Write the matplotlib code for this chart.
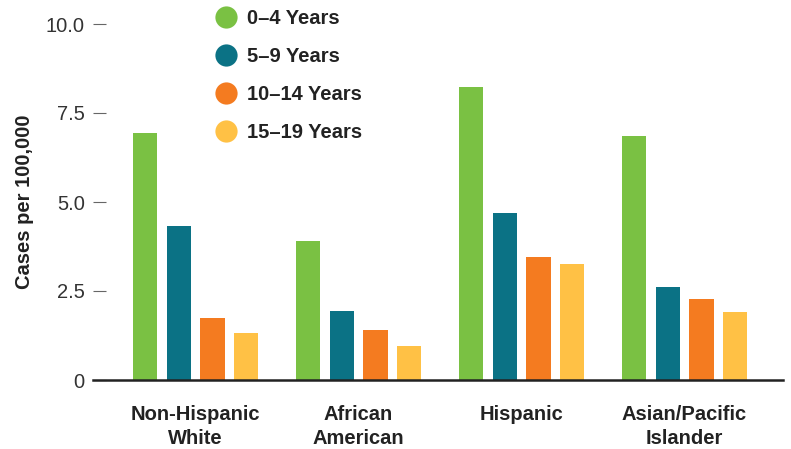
import numpy as np
import matplotlib.pyplot as plt
from matplotlib.lines import Line2D

plt.rcParams['font.family'] = ['Liberation Sans', 'DejaVu Sans']

# data
groups = ['Non-Hispanic\nWhite', 'African\nAmerican', 'Hispanic', 'Asian/Pacific\nIslander']
age_bands = ['0\u20134 Years', '5\u20139 Years', '10\u201314 Years', '15\u201319 Years']
rates_0_4 = [6.94, 3.90, 8.24, 6.84]
rates_5_9 = [4.33, 1.94, 4.68, 2.62]
rates_10_14 = [1.75, 1.40, 3.46, 2.27]
rates_15_19 = [1.32, 0.96, 3.25, 1.92]
y_ticks = [0, 2.5, 5.0, 7.5, 10.0]
y_tick_labels = ['0', '2.5', '5.0', '7.5', '10.0']

series = [rates_0_4, rates_5_9, rates_10_14, rates_15_19]
colors = ['#7AC143', '#0B7285', '#F47B20', '#FFC145']

fig = plt.figure(figsize=(7.91, 4.49), dpi=100)
ax = fig.add_axes([93 / 791, 1 - 380 / 449, (783 - 93) / 791, (380 - 24) / 449])

x = np.arange(len(groups))
step = 0.206
width = 0.15
for k, (vals, c) in enumerate(zip(series, colors)):
    ax.bar(x + (k - 1.5) * step, vals, width, color=c, label=age_bands[k], zorder=2)

ax.set_xlim(-0.629, 3.604)
ax.set_ylim(0, 10.0)
ax.set_yticks(y_ticks)
ax.set_yticklabels(y_tick_labels, fontsize=14.5, color='#333333')
ax.tick_params(axis='y', direction='in', length=9.5, width=0.8, color='#666666', pad=6)
ax.set_xticks(x)
ax.set_xticklabels(groups, fontsize=14.5, fontweight='bold', color='#222222', linespacing=1.3)
ax.tick_params(axis='x', length=0, pad=18)

for s in ['top', 'right', 'left']:
    ax.spines[s].set_visible(False)
ax.spines['bottom'].set_color('#222222')
ax.spines['bottom'].set_linewidth(1.8)
ax.spines['bottom'].set_zorder(3)

ax.set_ylabel('Cases per 100,000', fontsize=14.5, fontweight='bold', color='#222222')
ax.yaxis.set_label_coords(-(93 - 34) / 690, 0.5)

handles = [Line2D([], [], marker='o', linestyle='none', markersize=16,
                  markerfacecolor=c, markeredgecolor='none') for c in colors]
leg = ax.legend(handles, age_bands, loc='upper left', bbox_to_anchor=(216 / 791, 1 - 9.5 / 449),
                bbox_transform=fig.transFigure, frameon=False, fontsize=14.5,
                labelspacing=0.93, handletextpad=0.55, handlelength=1.0,
                borderpad=0, borderaxespad=0)
for t in leg.get_texts():
    t.set_fontweight('bold')
    t.set_color('#222222')

fig.savefig('out.png', dpi=100)
